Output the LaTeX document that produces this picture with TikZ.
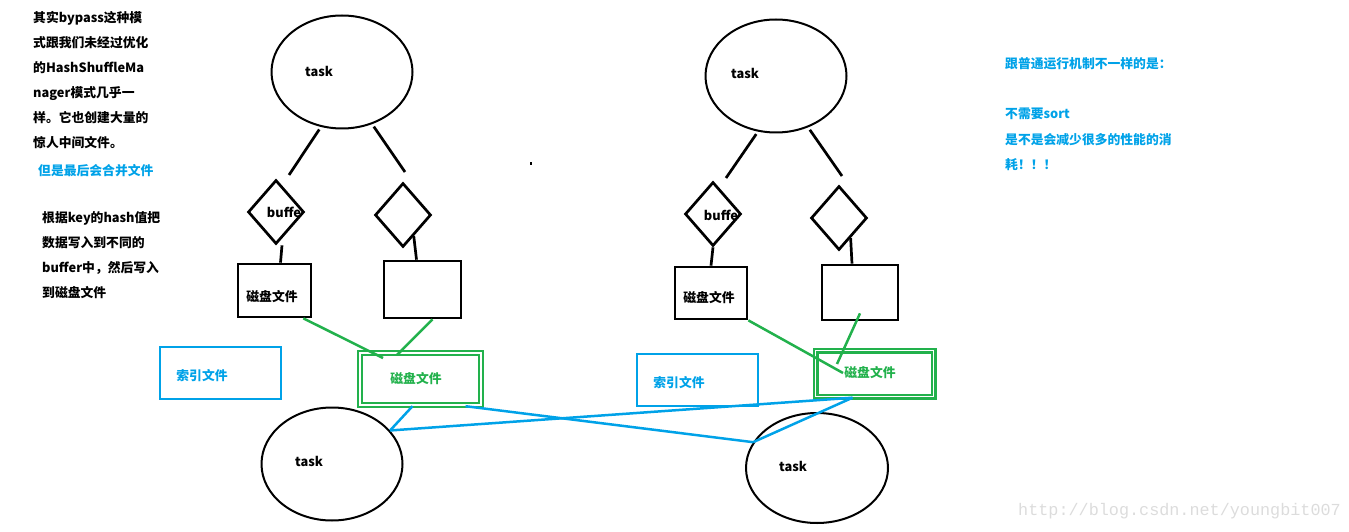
\documentclass[tikz,border=0pt]{standalone}
\usepackage{fontspec}
\setmainfont{Noto Sans CJK SC}
\newfontfamily\wmfont{Liberation Mono}
\usetikzlibrary{shapes.geometric}
\definecolor{pblue}{RGB}{0,162,232}
\definecolor{pgreen}{RGB}{34,177,76}
\definecolor{wmgray}{RGB}{220,220,220}
\tikzset{
  tsk/.style={draw, ellipse, line width=2pt, minimum width=141pt, minimum height=113pt, inner sep=0pt},
  dia/.style={draw, diamond, line width=2.7pt, minimum width=56pt, minimum height=64pt, inner sep=0pt},
  disk/.style={draw, line width=2.7pt, inner sep=0pt},
  idx/.style={draw=pblue, line width=2.5pt, inner sep=0pt, minimum width=121pt, minimum height=52pt},
  merged/.style={draw=pgreen, double=white, double distance=1.2pt, line width=2.4pt, inner sep=0pt},
  txt/.style={anchor=base west, inner sep=0pt, font=\bfseries\fontsize{12.8}{15}\selectfont},
  lbl/.style={inner sep=0pt, font=\bfseries\fontsize{12.8}{14}\selectfont},
  blk/.style={line width=2.7pt},
  grn/.style={draw=pgreen, line width=2.5pt},
  blu/.style={draw=pblue, line width=2.5pt}
}
\begin{document}
\begin{tikzpicture}[x=1pt, y=-1pt]
\useasboundingbox (0,0) rectangle (1349,532);
% left text
\node[txt] (t1) at (33,22.5) {其实bypass这种模};
\node[txt] (t2) at (33,47.5) {式跟我们未经过优化};
\node[txt] (t3) at (33,72.5) {的HashShuffleMa};
\node[txt] (t4) at (33,97.5) {nager模式几乎一};
\node[txt] (t5) at (33,122.5) {样。它也创建大量的};
\node[txt] (t6) at (33,147.5) {惊人中间文件。};
\node[txt, text=pblue] (t7) at (38,175.5) {但是最后会合并文件};
\node[txt] (t8) at (42,222.5) {根据key的hash值把};
\node[txt] (t9) at (42,247.5) {数据写入到不同的};
\node[txt] (t10) at (42,272.5) {buffer中，然后写入};
\node[txt] (t11) at (42,297.5) {到磁盘文件};
% right text
\node[txt, text=pblue] (n1) at (1005,69) {跟普通运行机制不一样的是：};
\node[txt, text=pblue] (n2) at (1005,119) {不需要sort};
\node[txt, text=pblue] (n3) at (1005,144.5) {是不是会减少很多的性能的消};
\node[txt, text=pblue] (n4) at (1005,169) {耗！！！};
% left flow
\node[tsk] (tkA) at (342,72) {};
\node[lbl] (tkAl) at (319,71) {task};
\node[dia] (dA) at (276,212) {};
\node[lbl] (dAl) at (284,212) {buffe};
\node[dia] (dB) at (403,215) {};
\node[disk, minimum width=73pt, minimum height=53pt] (rA) at (274.5,290.5) {};
\node[lbl] (rAl) at (272,297) {磁盘文件};
\node[disk, minimum width=77pt, minimum height=57pt] (rB) at (422.5,289.5) {};
\node[idx] (bA) at (220.5,373) {};
\node[lbl, text=pblue] (bAl) at (202,376) {索引文件};
\node[merged, minimum width=121pt, minimum height=52pt] (gA) at (420.5,379) {};
\node[lbl, text=pgreen] (gAl) at (416,379) {磁盘文件};
\node[tsk] (tkC) at (332,464) {};
\node[lbl] (tkCl) at (309,461) {task};
% right flow
\node[tsk] (tkB) at (776,76) {};
\node[lbl] (tkBl) at (745,73) {task};
\node[dia] (dC) at (713,214) {};
\node[lbl] (dCl) at (721,215) {buffe};
\node[dia] (dD) at (839,218) {};
\node[disk, minimum width=72pt, minimum height=52pt] (rC) at (711,293) {};
\node[lbl] (rCl) at (709,298) {磁盘文件};
\node[disk, minimum width=76pt, minimum height=55pt] (rD) at (860,292.5) {};
\node[idx] (bB) at (697.5,380) {};
\node[lbl, text=pblue] (bBl) at (679,383) {索引文件};
\node[merged, minimum width=118pt, minimum height=46pt] (gB) at (874.5,373.5) {};
\node[lbl, text=pgreen] (gBl) at (870,373) {磁盘文件};
\node[tsk, minimum width=142pt, minimum height=110pt] (tkD) at (817,468) {};
\node[lbl] (tkDl) at (793,466) {task};
% loose ends
\coordinate (eA) at (289,175);
\coordinate (eB) at (405,172);
\coordinate (eC) at (726,178);
\coordinate (eD) at (842,176);
\coordinate (gA1) at (383,358);
\coordinate (gA2) at (397,355);
\coordinate (gB1) at (843,373);
\coordinate (gB2) at (837,364);
\fill (530,162) rectangle (532,165);
% black lines
\draw[blk, shorten <=3pt] (tkA.249) -- (eA);
\draw[blk, shorten <=3pt] (tkA.300) -- (eB);
\draw[blk, shorten <=3pt] (tkB.252) -- (eC);
\draw[blk, shorten <=3pt] (tkB.302) -- (eD);
\draw[blk] ([xshift=6pt]dA.south) -- ([xshift=6pt]rA.north);
\draw[blk] (dB.-63) -- ([xshift=-6pt]rB.north);
\draw[blk] (dC.south) -- (rC.north);
\draw[blk] (dD.-60) -- ([xshift=-8pt]rD.north);
% green lines
\draw[grn] ([xshift=-9pt]rA.south east) -- (gA1);
\draw[grn] ([xshift=10pt]rB.south) -- (gA2);
\draw[grn] (rC.south east) -- (gB1);
\draw[grn] ([yshift=8pt]rD.south) -- (gB2);
% blue lines
\draw[blu] ([xshift=-8pt]gA.south) -- (tkC.30);
\draw[blu] (tkC.30) -- ([xshift=-22pt]gB.south);
\draw[blu] ([xshift=45pt]gA.south) -- (tkD.158);
\draw[blu] ([xshift=-22pt]gB.south) -- (tkD.158);
% watermark
\node[anchor=base west, inner sep=0pt, text=wmgray, font=\wmfont\fontsize{16.8}{18}\selectfont] (wm) at (1018,515) {http://blog.csdn.net/youngbit007};
\end{tikzpicture}
\end{document}
